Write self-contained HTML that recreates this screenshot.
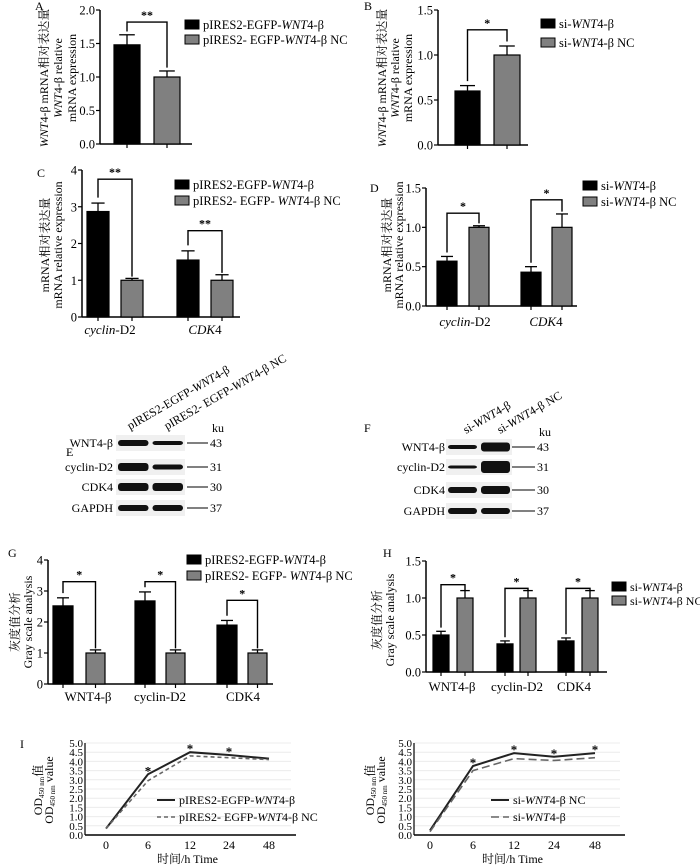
<!DOCTYPE html>
<html><head><meta charset="utf-8">
<style>
html,body{margin:0;padding:0;background:#fff;}
svg{display:block;font-family:"Liberation Serif","Noto Serif CJK SC",serif;}
text{fill:#000;font-family:"Liberation Serif","Noto Serif CJK SC",serif;}
</style></head>
<body>
<svg id="fig" width="700" height="866" viewBox="0 0 700 866"></svg>
<script>
// ---- data ----
const aValues = [1.48, 1.0];
const aErrors = [1.63, 1.09];
const bValues = [0.6, 1.0];
const bErrors = [0.66, 1.1];
const cCategories = ["cyclin-D2", "CDK4"];
const cBlack = [2.87, 1.55];
const cGray = [1.0, 1.0];
const cBlackErr = [3.1, 1.8];
const cGrayErr = [1.05, 1.15];
const dBlack = [0.57, 0.43];
const dGray = [1.0, 1.0];
const dBlackErr = [0.63, 0.5];
const dGrayErr = [1.02, 1.17];
const gCategories = ["WNT4-β", "cyclin-D2", "CDK4"];
const gBlack = [2.52, 2.68, 1.9];
const gGray = [1.0, 1.0, 1.0];
const gBlackErr = [2.78, 2.97, 2.05];
const gGrayErr = [1.1, 1.1, 1.1];
const hBlack = [0.5, 0.38, 0.42];
const hGray = [1.0, 1.0, 1.0];
const hBlackErr = [0.55, 0.42, 0.46];
const hGrayErr = [1.1, 1.1, 1.1];
const timeLabels = ["0", "6", "12", "24", "48"];
const iLeftSolid = [0.35, 3.3, 4.5, 4.35, 4.15];
const iLeftDashed = [0.35, 2.95, 4.3, 4.2, 4.1];
const iRightSolid = [0.25, 3.75, 4.45, 4.25, 4.45];
const iRightDashed = [0.18, 3.5, 4.15, 4.05, 4.2];
const iLeftStars = [1, 2, 3];
const iRightStars = [1, 2, 3, 4];

const NS = "http://www.w3.org/2000/svg";
const svg = document.getElementById("fig");
const FS = 12.5;
function el(tag, attrs, parent, txt) {
  const e = document.createElementNS(NS, tag);
  for (const k in attrs) e.setAttribute(k, attrs[k]);
  if (txt !== undefined) e.innerHTML = txt;
  (parent || svg).appendChild(e);
  return e;
}
function grp(name) {
  const g = el("g", {});
  
  
  return g;
}
function rotText(g, x, y, s, size, name) {
  const t = el("text", {x: x, y: y, "font-size": size, "text-anchor": "middle", transform: `rotate(-90 ${x} ${y})`}, g, s);
  
  
}
function yAxis(g, x, y0, y1, vmax, ticks, fmt, x1) {
  const sy = v => y0 - (y0 - y1) * v / vmax;
  el("line", {x1: x, y1: y0, x2: x, y2: y1, stroke: "#000", "stroke-width": 1.5}, g);
  el("line", {x1: x, y1: y0, x2: x1, y2: y0, stroke: "#000", "stroke-width": 1.5}, g);
  ticks.forEach(t => {
    el("line", {x1: x - 4, y1: sy(t), x2: x, y2: sy(t), stroke: "#000", "stroke-width": 1.2}, g);
    const tl = el("text", {x: x - 5, y: sy(t) + 4.5, "font-size": 12.5, "text-anchor": "end"}, g, fmt(t));
    
    
  });
  return sy;
}
function bar(g, x, w, v, e, sy, color, name) {
  const r = el("rect", {x: x, y: sy(v), width: w, height: sy(0) - sy(v), fill: color, stroke: "#000", "stroke-width": 1.2}, g);
  
  
  const cx = x + w / 2;
  el("line", {x1: cx, y1: sy(v), x2: cx, y2: sy(e), stroke: "#000", "stroke-width": 1.3}, g);
  el("line", {x1: cx - w * 0.3, y1: sy(e), x2: cx + w * 0.3, y2: sy(e), stroke: "#000", "stroke-width": 1.3}, g);
  el("line", {x1: cx, y1: sy(0), x2: cx, y2: sy(0) + 4, stroke: "#000", "stroke-width": 1.2}, g);
  return cx;
}
function bracket(g, xa, ya, xb, yb, ytop, sy, star) {
  el("polyline", {points: `${xa},${sy(ya)} ${xa},${sy(ytop)} ${xb},${sy(ytop)} ${xb},${sy(yb)}`, fill: "none", stroke: "#000", "stroke-width": 1.4}, g);
  const s = el("text", {x: (xa + xb) / 2, y: sy(ytop) - 3, "font-size": 12, "text-anchor": "middle", "font-weight": "bold"}, g, star);
  
  
}
function legend(g, x, ys, labels, colors, size) {
  labels.forEach((l, i) => {
    el("rect", {x: x, y: ys[i] - 5, width: 14, height: 9, fill: colors[i], stroke: "#000", "stroke-width": 1}, g);
    const t = el("text", {x: x + 18, y: ys[i] + 4, "font-size": size || FS}, g, l);
    
    
  });
}
function panelLabel(x, y, s) {
  const t = el("text", {x: x, y: y, "font-size": 12}, svg, s);
  
  
}
const W = '<tspan font-style="italic">WNT</tspan>4-β';
const f1 = t => t.toFixed(1), f0 = t => String(t);

// ---- A ----
(function(){
  const g = grp("panel-a-chart");
  const sy = yAxis(g, 100, 144, 10, 2.0, [0, 0.5, 1.0, 1.5, 2.0], f1, 192);
  const c1 = bar(g, 114, 26, aValues[0], aErrors[0], sy, "#000", "bar-overexpression");
  const c2 = bar(g, 154, 26, aValues[1], aErrors[1], sy, "#808080", "bar-nc");
  bracket(g, c1, aErrors[0] + 0.05, c2, aErrors[1] + 0.05, 1.82, sy, "**");
  legend(g, 185, [25, 40], ["pIRES2-EGFP-" + W, "pIRES2- EGFP-" + W + " NC"], ["#000", "#808080"]);
  rotText(g, 48, 78, W + " mRNA相对表达量", 12, "y-axis-title-cn");
  rotText(g, 62, 78, W + " relative", 12, "y-axis-title-en");
  rotText(g, 76, 78, "mRNA expression", 12, "y-axis-title-en2");
})();
panelLabel(35, 10, "A");
// ---- B ----
(function(){
  const g = grp("panel-b-chart");
  const sy = yAxis(g, 438, 145, 10, 1.5, [0, 0.5, 1.0, 1.5], f1, 528);
  const c1 = bar(g, 455, 25, bValues[0], bErrors[0], sy, "#000", "bar-si");
  const c2 = bar(g, 494, 26, bValues[1], bErrors[1], sy, "#808080", "bar-si-nc");
  bracket(g, c1, bErrors[0] + 0.05, c2, bErrors[1] + 0.05, 1.28, sy, "*");
  legend(g, 541, [24, 43], ["si-" + W, "si-" + W + " NC"], ["#000", "#808080"]);
  rotText(g, 386, 78, W + " mRNA相对表达量", 12, "y-axis-title-cn");
  rotText(g, 399, 78, W + " relative", 12, "y-axis-title-en");
  rotText(g, 412, 78, "mRNA expression", 12, "y-axis-title-en2");
})();
panelLabel(364, 10, "B");
// ---- C ----
(function(){
  const g = grp("panel-c-chart");
  const sy = yAxis(g, 82, 317, 170, 4, [0, 1, 2, 3, 4], f0, 240);
  const xs = [[87, 121], [177, 211]];
  cCategories.forEach((c, i) => {
    const a = bar(g, xs[i][0], 22, cBlack[i], cBlackErr[i], sy, "#000", "bar-" + c.toLowerCase() + "-oe");
    const b = bar(g, xs[i][1], 22, cGray[i], cGrayErr[i], sy, "#808080", "bar-" + c.toLowerCase() + "-nc");
    bracket(g, a, cBlackErr[i] + 0.15, b, cGrayErr[i] + 0.05, i === 0 ? 3.75 : 2.35, sy, "**");
  });
  const lab = [['<tspan font-style="italic">cyclin</tspan>-D2', 110], ['<tspan font-style="italic">CDK</tspan>4', 205]];
  lab.forEach(l => { const t = el("text", {x: l[1], y: 334, "font-size": 13, "text-anchor": "middle"}, g, l[0]);   });
  legend(g, 175, [185, 201], ["pIRES2-EGFP-" + W, "pIRES2- EGFP- " + W + " NC"], ["#000", "#808080"]);
  rotText(g, 49, 245, "mRNA相对表达量", 12, "y-axis-title-cn");
  rotText(g, 62, 245, "mRNA relative expression", 12, "y-axis-title-en");
})();
panelLabel(37, 177, "C");
// ---- D ----
(function(){
  const g = grp("panel-d-chart");
  const sy = yAxis(g, 426, 306, 188, 1.5, [0, 0.5, 1.0, 1.5], f1, 577);
  const xs = [[437, 469], [521, 552]];
  cCategories.forEach((c, i) => {
    const a = bar(g, xs[i][0], 20, dBlack[i], dBlackErr[i], sy, "#000", "bar-" + c.toLowerCase() + "-si");
    const b = bar(g, xs[i][1], 20, dGray[i], dGrayErr[i], sy, "#808080", "bar-" + c.toLowerCase() + "-nc");
    bracket(g, a, dBlackErr[i] + 0.05, b, dGrayErr[i] + 0.03, i === 0 ? 1.18 : 1.35, sy, "*");
  });
  const lab = [['<tspan font-style="italic">cyclin</tspan>-D2', 465], ['<tspan font-style="italic">CDK</tspan>4', 546]];
  lab.forEach(l => { const t = el("text", {x: l[1], y: 326, "font-size": 13, "text-anchor": "middle"}, g, l[0]);   });
  legend(g, 583, [186, 202], ["si-" + W, "si-" + W + " NC"], ["#000", "#808080"]);
  rotText(g, 391, 245, "mRNA相对表达量", 12, "y-axis-title-cn");
  rotText(g, 403, 245, "mRNA relative expression", 12, "y-axis-title-en");
})();
panelLabel(370, 192, "D");
// ---- Western blots ----
function blot(name, x0, x1, rows, labelsX, lineX0, lineX1, widths, tilted, tiltX) {
  const g = grp(name);
  const names = ["WNT4-β", "cyclin-D2", "CDK4", "GAPDH"];
  const nums = ["43", "31", "30", "37"];
  rows.forEach((y, i) => {
    el("rect", {x: x0 - 2, y: y - 8, width: x1 - x0 + 4, height: 16, fill: "#f0f0f0"}, g);
    const mid = (x0 + x1) / 2;
    el("rect", {x: x0, y: y - widths[i][0] / 2, width: mid - x0 - 2, height: widths[i][0], fill: "#111", rx: 3}, g);
    el("rect", {x: mid + 2, y: y - widths[i][1] / 2, width: x1 - mid - 2, height: widths[i][1], fill: "#111", rx: 3}, g);
    const t = el("text", {x: labelsX, y: y + 4, "font-size": 12, "text-anchor": "end"}, g, names[i]);
    
    
    el("line", {x1: lineX0, y1: y, x2: lineX1, y2: y, stroke: "#000", "stroke-width": 1}, g);
    const n = el("text", {x: lineX1 + 2, y: y + 4, "font-size": 12}, g, nums[i]);
    
    
  });
  el("text", {x: lineX1 + 4, y: rows[0] - 11, "font-size": 12}, g, "ku");
  tilted.forEach((s, i) => {
    const t = el("text", {x: tiltX[i], y: rows[0] - 13, "font-size": 12, transform: `rotate(-30 ${tiltX[i]} ${rows[0] - 13})`}, g, s);
    
    
  });
}
blot("western-blot-e", 118, 183, [443, 467, 487, 508], 113, 187, 208, [[6,4],[8,5],[8,8],[6,6]],
  ["pIRES2-EGFP-" + W, "pIRES2- EGFP-" + W + " NC"], [130, 167]);
blot("western-blot-f", 448, 510, [447, 467, 490, 511], 445, 512, 535, [[4,9],[3,12],[6,8],[6,6]],
  ["si-" + W, "si-" + W + " NC"], [466, 500]);
panelLabel(66, 456, "E");
panelLabel(364, 432, "F");
// ---- G ----
(function(){
  const g = grp("panel-g-chart");
  const sy = yAxis(g, 48, 684, 560, 4, [0, 1, 2, 3, 4], f0, 273);
  const xs = [[53, 86], [135, 166], [217, 248]];
  const lx = [88, 160, 243];
  gCategories.forEach((c, i) => {
    const a = bar(g, xs[i][0], 20, gBlack[i], gBlackErr[i], sy, "#000", "bar-gray-oe-" + i);
    const b = bar(g, xs[i][1], 19, gGray[i], gGrayErr[i], sy, "#808080", "bar-gray-nc-" + i);
    bracket(g, a, gBlackErr[i] + 0.15, b, gGrayErr[i] + 0.05, i === 2 ? 2.7 : 3.3, sy, "*");
    const t = el("text", {x: lx[i], y: 701, "font-size": 13, "text-anchor": "middle"}, g, c);
    
    
  });
  legend(g, 187, [560, 576], ["pIRES2-EGFP-" + W, "pIRES2- EGFP- " + W + " NC"], ["#000", "#808080"]);
  rotText(g, 19, 622, "灰度值分析", 12, "y-axis-title-cn");
  rotText(g, 32, 622, "Gray scale analysis", 12, "y-axis-title-en");
})();
panelLabel(8, 557, "G");
// ---- H ----
(function(){
  const g = grp("panel-h-chart");
  const sy = yAxis(g, 426, 672, 561, 1.5, [0, 0.5, 1.0, 1.5], f1, 607);
  const xs = [[433, 457], [497, 520], [558, 582]];
  const lx = [452, 517, 574];
  gCategories.forEach((c, i) => {
    const a = bar(g, xs[i][0], 16, hBlack[i], hBlackErr[i], sy, "#000", "bar-gray-si-" + i);
    const b = bar(g, xs[i][1], 16, hGray[i], hGrayErr[i], sy, "#808080", "bar-gray-sinc-" + i);
    bracket(g, a, hBlackErr[i] + 0.05, b, hGrayErr[i], i === 0 ? 1.18 : 1.13, sy, "*");
    const t = el("text", {x: lx[i], y: 691, "font-size": 13, "text-anchor": "middle"}, g, c);
    
    
  });
  legend(g, 612, [587, 601], ["si-" + W, "si-" + W + " NC"], ["#000", "#808080"], 12);
  rotText(g, 381, 620, "灰度值分析", 12, "y-axis-title-cn");
  rotText(g, 394, 620, "Gray scale analysis", 12, "y-axis-title-en");
})();
panelLabel(383, 557, "H");
// ---- I ----
function growth(name, ax, xend, tickX, solid, dashed, stars, legLabels, legX, ylx, dashArr) {
  const g = grp(name);
  const y0 = 835, y1 = 743;
  const sy = v => y0 - (y0 - y1) * v / 5;
  for (let v = 0.5; v <= 5.0001; v += 0.5) el("line", {x1: ax, y1: sy(v), x2: xend - 5, y2: sy(v), stroke: "#ececec", "stroke-width": 1}, g);
  el("line", {x1: ax, y1: y0, x2: ax, y2: y1, stroke: "#000", "stroke-width": 1.2}, g);
  el("line", {x1: ax, y1: y0, x2: xend, y2: y0, stroke: "#000", "stroke-width": 1.5}, g);
  for (let k = 0; k <= 10; k++) {
    const v = k * 0.5;
    const t = el("text", {x: ax - 2, y: sy(v) + 4, "font-size": 11, "text-anchor": "end"}, g, v.toFixed(1));
    
    
  }
  timeLabels.forEach((l, i) => {
    const t = el("text", {x: tickX[i], y: 849, "font-size": 12, "text-anchor": "middle"}, g, l);
    
    
  });
  const xt = el("text", {x: (tickX[0] + tickX[4]) / 2, y: 863, "font-size": 12, "text-anchor": "middle"}, g, "时间/h  Time");
  
  
  const pts = arr => arr.map((v, i) => `${tickX[i]},${sy(v)}`).join(" ");
  const ls = el("polyline", {points: pts(solid), fill: "none", stroke: "#222", "stroke-width": 2}, g);
  
  
  const ld = el("polyline", {points: pts(dashed), fill: "none", stroke: "#666", "stroke-width": 1.6, "stroke-dasharray": dashArr}, g);
  
  
  stars.forEach(i => {
    const s = el("text", {x: tickX[i], y: sy(Math.max(solid[i], dashed[i])) + 1, "font-size": 13, "font-weight": "bold", "text-anchor": "middle"}, g, "*");
    
    
  });
  [0, 1].forEach(i => {
    const y = 800 + i * 17;
    el("line", {x1: legX, y1: y, x2: legX + 18, y2: y, stroke: i ? "#666" : "#222", "stroke-width": i ? 1.6 : 2, "stroke-dasharray": i ? dashArr : "none"}, g);
    const t = el("text", {x: legX + 22, y: y + 4, "font-size": 12}, g, legLabels[i]);
    
    
  });
  rotText(g, ylx, 790, 'OD<tspan font-size="7" dy="2">450 nm</tspan><tspan dy="-2">值</tspan>', 12, "y-axis-title-cn");
  rotText(g, ylx + 11, 790, 'OD<tspan font-size="7" dy="2">450 nm</tspan><tspan dy="-2"> value</tspan>', 12, "y-axis-title-en");
}
growth("panel-i-left-chart", 85, 296, [106, 148, 190, 229, 269], iLeftSolid, iLeftDashed, iLeftStars,
  ["pIRES2-EGFP-" + W, "pIRES2- EGFP-" + W + " NC"], 157, 42, "4,3");
growth("panel-i-right-chart", 414, 625, [430, 473, 514, 554, 595], iRightSolid, iRightDashed, iRightStars,
  ["si-" + W + " NC", "si-" + W], 491, 374, "8,4");
panelLabel(20, 748, "I");
</script>
</body></html>
